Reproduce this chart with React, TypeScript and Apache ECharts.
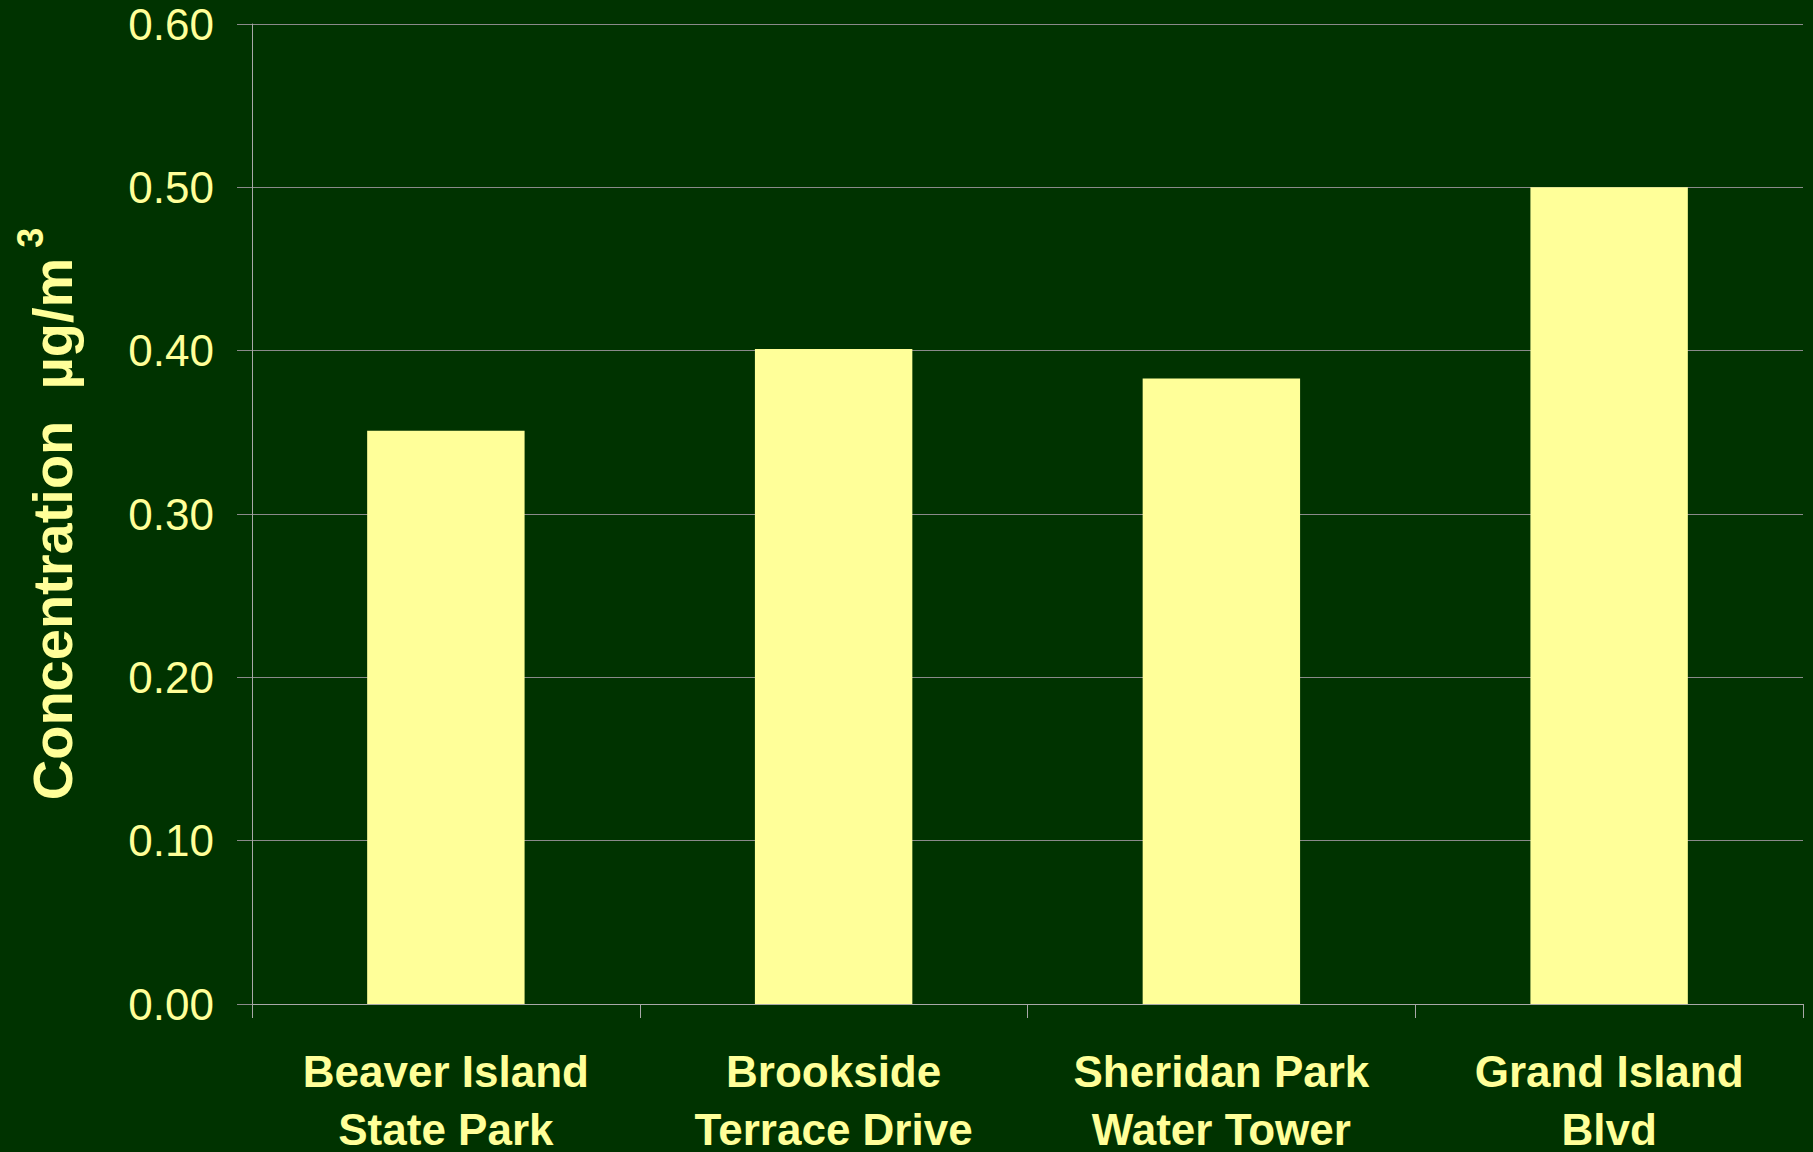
import React, { useEffect, useRef } from "react";
import * as echarts from "echarts";

const categories = [
  "Beaver Island\nState Park",
  "Brookside\nTerrace Drive",
  "Sheridan Park\nWater Tower",
  "Grand Island\nBlvd",
];
const concentrations = [0.351, 0.401, 0.383, 0.5];
const yTicks = { min: 0, max: 0.6, interval: 0.1 };

const BG = "#003300";
const YELLOW = "#FFFF99";
const GRID = "#8a8a8a";
const AXIS = "#a8a8a8";

export default function App() {
  const ref = useRef<HTMLDivElement>(null);
  useEffect(() => {
    if (!ref.current) return;
    const chart = echarts.init(ref.current, undefined, { renderer: "svg" });
    chart.setOption({
      animation: false,
      backgroundColor: BG,
      grid: {
        left: 252,
        right: 10,
        top: 24,
        bottom: 148,
        containLabel: false,
        outerBoundsMode: "none",
      },
      xAxis: {
        type: "category",
        data: categories,
        axisLine: { show: true, lineStyle: { color: AXIS, width: 1 } },
        axisTick: { show: true, alignWithLabel: false, length: 14, lineStyle: { color: AXIS } },
        axisLabel: {
          interval: 0,
          margin: 38,
          color: YELLOW,
          fontFamily: "Liberation Sans, Arial, sans-serif",
          fontWeight: "bold",
          fontSize: 44,
          lineHeight: 58,
        },
        splitLine: { show: false },
      },
      yAxis: {
        type: "value",
        min: yTicks.min,
        max: yTicks.max,
        interval: yTicks.interval,
        axisLine: { show: true, lineStyle: { color: AXIS, width: 1 } },
        axisTick: { show: true, length: 15, lineStyle: { color: GRID } },
        axisLabel: {
          margin: 38,
          color: YELLOW,
          fontFamily: "Liberation Sans, Arial, sans-serif",
          fontSize: 44,
          formatter: (v: number) => v.toFixed(2),
        },
        splitLine: { show: true, lineStyle: { color: GRID, width: 1 } },
        name: "{a|Concentration  µg/m}{sup| 3}",
        nameLocation: "middle",
        nameGap: 160,
        nameRotate: 90,
        nameMoveOverlap: false,
        nameTextStyle: {
          color: YELLOW,
          rich: {
            a: {
              color: YELLOW,
              fontFamily: "Liberation Sans, Arial, sans-serif",
              fontWeight: "bold",
              fontSize: 56,
              lineHeight: 80,
            },
            sup: {
              color: YELLOW,
              fontFamily: "Liberation Sans, Arial, sans-serif",
              fontWeight: "bold",
              fontSize: 36,
              lineHeight: 36,
              verticalAlign: "top",
            },
          },
        },
      },
      series: [
        {
          type: "bar",
          data: concentrations,
          barWidth: "40.6%",
          itemStyle: { color: YELLOW },
        },
      ],
    });
    return () => chart.dispose();
  }, []);
  return (
    <div
      ref={ref}
      style={{ position: "fixed", left: 0, top: 0, width: 1813, height: 1152 }}
    />
  );
}
